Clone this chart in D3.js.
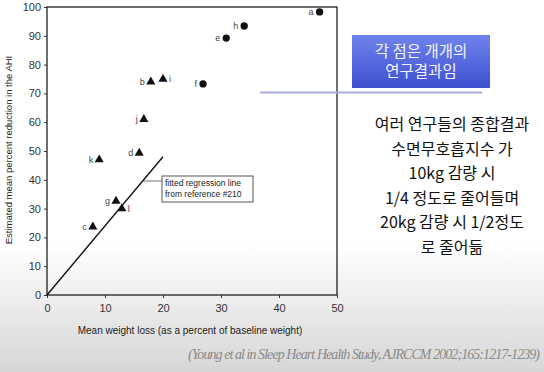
<!DOCTYPE html>
<html>
<head>
<meta charset="utf-8">
<script src="https://cdn.jsdelivr.net/npm/d3@7"></script>
<style>
body { margin: 0; background: #fff; }
</style>
</head>
<body>
<script>
// studies: label, weight loss (%), AHI reduction (%), marker
var labels = ['a', 'h', 'e', 'f', 'i', 'b', 'j', 'd', 'k', 'g', 'l', 'c'];
var weightLoss = [47, 34, 30.9, 26.9, 20, 17.9, 16.7, 15.9, 9, 11.9, 12.9, 7.9];
var ahiReduction = [98.3, 93.4, 89.2, 73.3, 75, 74, 61, 49.3, 47, 32.6, 30, 23.7];
var markers = ['circle', 'circle', 'circle', 'circle', 'tri', 'tri', 'tri', 'tri', 'tri', 'tri', 'tri', 'tri'];
var labelRight = ['i', 'l'];
var regLine = [[0, 0], [20, 48]];
var xTicks = [0, 10, 20, 30, 40, 50];
var yTicks = [0, 10, 20, 30, 40, 50, 60, 70, 80, 90, 100];
var noteLines = ['여러 연구들의 종합결과', '수면무호흡지수 가', '10kg 감량 시', '1/4 정도로 줄어들며', '20kg 감량 시 1/2정도', '로 줄어듦'];
var boxLines = ['각 점은 개개의', '연구결과임'];

var W = 544, H = 372;
var svg = d3.select('body').append('svg')
  .attr('width', W)
  .attr('height', H);

var defs = svg.append('defs');
var bg = defs.append('linearGradient').attr('id', 'bg').attr('x1', 0).attr('y1', 0).attr('x2', 0).attr('y2', 1);
bg.append('stop').attr('offset', '0').attr('stop-color', '#ffffff');
bg.append('stop').attr('offset', '0.66').attr('stop-color', '#ffffff');
bg.append('stop').attr('offset', '1').attr('stop-color', '#d6d6d6');
var bl = defs.append('linearGradient').attr('id', 'bl').attr('x1', 0).attr('y1', 0).attr('x2', 0).attr('y2', 1);
bl.append('stop').attr('offset', '0').attr('stop-color', '#6f83ec');
bl.append('stop').attr('offset', '1').attr('stop-color', '#3f50d0');

svg.append('rect').attr('width', W).attr('height', H).attr('fill', 'url(#bg)');

var x = d3.scaleLinear().domain([0, 50]).range([47, 337]);
var y = d3.scaleLinear().domain([0, 100]).range([295, 7]);

// frame
svg.append('rect')
  .attr('x', x(0)).attr('y', y(100))
  .attr('width', x(50) - x(0)).attr('height', y(0) - y(100))
  .attr('fill', 'none').attr('stroke', '#222').attr('stroke-width', 1.3);

var xAxis = svg.append('g')
  .attr('transform', 'translate(0,' + y(0) + ')')
  .call(d3.axisBottom(x).tickValues(xTicks).tickSize(3).tickPadding(6));
var yAxis = svg.append('g')
  .attr('transform', 'translate(' + x(0) + ',0)')
  .call(d3.axisLeft(y).tickValues(yTicks).tickSize(3).tickPadding(3));
[xAxis, yAxis].forEach(function(a) {
  a.select('.domain').remove();
  a.selectAll('line').attr('stroke', '#333');
  a.selectAll('text').attr('fill', '#333').style('font', '11px "Liberation Sans", Arial, sans-serif');
});

svg.append('text')
  .attr('x', 190).attr('y', 334)
  .attr('text-anchor', 'middle')
  .attr('fill', '#222')
  .style('font', '10px "Liberation Sans", Arial, sans-serif')
  .text('Mean weight loss (as a percent of baseline weight)');

svg.append('text')
  .attr('transform', 'translate(12,' + 150 + ') rotate(-90)')
  .attr('text-anchor', 'middle')
  .attr('fill', '#222')
  .style('font', '9.5px "Liberation Sans", Arial, sans-serif')
  .text('Estimated mean percent reduction in the AHI');

// regression line
svg.append('path')
  .datum(regLine)
  .attr('d', d3.line().x(function(d) { return x(d[0]); }).y(function(d) { return y(d[1]); }))
  .attr('stroke', '#111').attr('stroke-width', 1.4).attr('fill', 'none');

// callout
svg.append('line')
  .attr('x1', x(16.5)).attr('y1', 181).attr('x2', 162).attr('y2', 181)
  .attr('stroke', '#555').attr('stroke-width', 0.8);
svg.append('rect')
  .attr('x', 162).attr('y', 176).attr('width', 91).attr('height', 26)
  .attr('fill', '#fff').attr('stroke', '#444').attr('stroke-width', 0.9);
svg.selectAll('.callout').data(['fitted regression line', 'from reference #210'])
  .enter().append('text')
  .attr('x', 165).attr('y', function(d, i) { return 186 + i * 11; })
  .attr('fill', '#222')
  .style('font', '8.5px "Liberation Sans", Arial, sans-serif')
  .text(function(d) { return d; });

// points
var pts = labels.map(function(l, i) {
  return { label: l, wx: weightLoss[i], ay: ahiReduction[i], m: markers[i] };
});
var g = svg.selectAll('.pt').data(pts).enter().append('g')
  .attr('transform', function(d) { return 'translate(' + x(d.wx) + ',' + y(d.ay) + ')'; });
g.append('path')
  .attr('d', function(d) {
    return d3.symbol().type(d.m === 'circle' ? d3.symbolCircle : d3.symbolTriangle).size(d.m === 'circle' ? 42 : 36)();
  })
  .attr('fill', '#111');
g.append('text')
  .attr('x', function(d) { return labelRight.indexOf(d.label) >= 0 ? 6 : -6; })
  .attr('y', 3)
  .attr('text-anchor', function(d) { return labelRight.indexOf(d.label) >= 0 ? 'start' : 'end'; })
  .attr('fill', '#444')
  .style('font', '9px "Liberation Sans", Arial, sans-serif')
  .text(function(d) { return d.label; });

// blue callout box
svg.append('rect')
  .attr('x', 352).attr('y', 35).attr('width', 138).attr('height', 53)
  .attr('fill', 'url(#bl)');
svg.selectAll('.bx').data(boxLines).enter().append('text')
  .attr('x', 421).attr('y', function(d, i) { return 57 + i * 20; })
  .attr('text-anchor', 'middle')
  .attr('fill', '#f2f4ff')
  .style('font', '15.5px "Noto Sans CJK KR", sans-serif')
  .text(function(d) { return d; });
svg.append('line')
  .attr('x1', 260).attr('y1', 92.5).attr('x2', 482).attr('y2', 92.5)
  .attr('stroke', '#a9aae0').attr('stroke-width', 2);

// handwritten note
svg.selectAll('.note').data(noteLines).enter().append('text')
  .attr('x', 452).attr('y', function(d, i) { return 130 + i * 24.5; })
  .attr('text-anchor', 'middle')
  .attr('fill', '#111')
  .style('font', '16px "Noto Sans CJK KR", sans-serif')
  .text(function(d) { return d; });

// citation
svg.append('text')
  .attr('x', 540).attr('y', 359)
  .attr('text-anchor', 'end')
  .attr('fill', '#8a8a8a')
  .style('font', 'italic 14px "Liberation Serif", serif')
  .attr('textLength', 352)
  .attr('lengthAdjust', 'spacing')
  .text('(Young et al in Sleep Heart Health Study, AJRCCM 2002;165:1217-1239)');
</script>
</body>
</html>
